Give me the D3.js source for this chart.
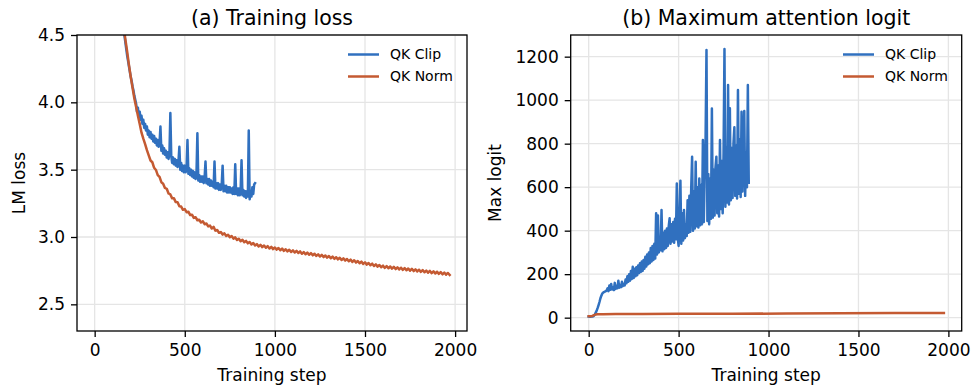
<!DOCTYPE html>
<html>
<head>
<meta charset="utf-8">
<script src="https://cdn.jsdelivr.net/npm/d3@7"></script>
<style>
  body { margin: 0; background: #fff; }
  svg text { font-family: "DejaVu Sans", sans-serif; fill: #000; }
</style>
</head>
<body>
<div id="chart"></div>
<script>
// ---- data ----
const seriesNames = ['QK Clip', 'QK Norm'];
const seriesColors = ['#3070bf', '#c45a32'];

const stepTicks = [0, 500, 1000, 1500, 2000];
const lossTicks = [2.5, 3.0, 3.5, 4.0, 4.5];
const logitTicks = [0, 200, 400, 600, 800, 1000, 1200];

// (a) LM loss, QK Clip: every 5 steps from step 120
const clipLossStart = 120, clipLossStride = 5;
const clipLoss = [
    4.95, 4.90, 4.84, 4.80, 4.75, 4.70, 4.65, 4.60, 4.55, 4.50,
    4.45, 4.40, 4.35, 4.31, 4.27, 4.23, 4.19, 4.16, 4.12, 4.09,
    4.05, 4.02,
    3.99, 3.93, 3.96, 3.89, 3.93, 3.87, 3.90, 3.84, 3.87, 3.81,
    3.84, 3.79, 3.82, 3.76, 3.79, 3.74, 3.78, 3.73, 3.76, 3.71,
    3.75, 3.70, 3.73, 3.68, 3.72, 3.67, 3.70, 3.82, 3.64, 3.68,
    3.62, 3.66, 3.61, 3.64, 3.59, 3.63, 3.58, 3.62, 3.92, 3.60,
    3.55, 3.59, 3.54, 3.58, 3.53, 3.57, 3.52, 3.56, 3.67, 3.50,
    3.55, 3.49, 3.53, 3.48, 3.53, 3.48, 3.52, 3.72, 3.47, 3.51,
    3.46, 3.50, 3.45, 3.49, 3.44, 3.48, 3.43, 3.47, 3.77, 3.42,
    3.46, 3.41, 3.45, 3.41, 3.45, 3.40, 3.44, 3.56, 3.40, 3.43,
    3.39, 3.43, 3.38, 3.42, 3.38, 3.41, 3.37, 3.56, 3.36, 3.40,
    3.36, 3.40, 3.35, 3.39, 3.35, 3.39, 3.53, 3.34, 3.38, 3.34,
    3.38, 3.33, 3.37, 3.33, 3.37, 3.33, 3.36, 3.32, 3.37, 3.32,
    3.54, 3.32, 3.36, 3.31, 3.36, 3.31, 3.35, 3.57, 3.31, 3.35,
    3.30, 3.34, 3.29, 3.34, 3.30, 3.79, 3.28, 3.34, 3.30, 3.37,
    3.32, 3.39, 3.40
];

// (a) LM loss, QK Norm: every 10 steps from step 120
const normLossStart = 120, normLossStride = 10;
const normLoss = [
    4.97, 4.87, 4.77, 4.67, 4.57, 4.47, 4.38, 4.28, 4.19, 4.11,
    4.03, 3.965, 3.90, 3.84, 3.775, 3.73, 3.69, 3.645,
    3.606, 3.568, 3.555, 3.514, 3.498, 3.460, 3.447, 3.407, 3.396, 3.364,
    3.358, 3.323, 3.316, 3.287, 3.287, 3.259, 3.258, 3.228, 3.226, 3.202,
    3.207, 3.184, 3.188, 3.163, 3.166, 3.142, 3.147, 3.124, 3.128, 3.108,
    3.117, 3.095, 3.100, 3.079, 3.085, 3.063, 3.075, 3.047, 3.052, 3.031,
    3.037, 3.018, 3.027, 3.008, 3.017, 2.998, 3.007, 2.988, 2.997, 2.978,
    2.987, 2.969, 2.979, 2.961, 2.971, 2.953, 2.963, 2.945, 2.955, 2.937,
    2.947, 2.930, 2.942, 2.925, 2.937, 2.920, 2.932, 2.915, 2.927, 2.910,
    2.922, 2.906, 2.918, 2.902, 2.914, 2.897, 2.909, 2.893, 2.905, 2.889,
    2.901, 2.885, 2.897, 2.881, 2.893, 2.876, 2.888, 2.872, 2.884, 2.868,
    2.880, 2.864, 2.876, 2.860, 2.871, 2.855, 2.867, 2.851, 2.863, 2.847,
    2.859, 2.842, 2.854, 2.838, 2.850, 2.834, 2.846, 2.829, 2.841, 2.825,
    2.837, 2.820, 2.832, 2.815, 2.827, 2.810, 2.822, 2.805, 2.817, 2.800,
    2.812, 2.795, 2.807, 2.790, 2.802, 2.785, 2.797, 2.780, 2.792, 2.775,
    2.787, 2.771, 2.784, 2.768, 2.781, 2.765, 2.778, 2.762, 2.775, 2.759,
    2.772, 2.756, 2.769, 2.753, 2.766, 2.750, 2.763, 2.747, 2.760, 2.744,
    2.757, 2.741, 2.754, 2.738, 2.751, 2.735, 2.748, 2.732, 2.745, 2.729,
    2.742, 2.726, 2.739, 2.723, 2.736, 2.720, 2.733, 2.718
];

// (b) max logit, QK Clip: every 5 steps from step 0
const clipLogitStart = 0, clipLogitStride = 5;
const clipLogit = [
    5, 4, 4, 5, 5, 6, 10, 16, 24, 34, 45, 58, 72, 88, 100, 110, 115, 118, 120, 122,
    125, 135, 122, 148, 128, 155, 130, 140, 127, 160, 132, 145, 135, 170, 138, 150, 140, 165, 145, 155,
    148, 175, 158, 190, 165, 200, 170, 215, 178, 234, 182, 225, 190, 232, 195, 240, 205, 250, 210, 258,
    215, 265, 225, 280, 235, 290, 245, 300, 250, 320, 258, 330, 265, 340, 272, 480, 290, 470, 300, 360,
    310, 495, 305, 390, 315, 400, 320, 410, 330, 420, 457, 340, 430, 350, 440, 345, 455, 360, 617, 370,
    330, 470, 630, 340, 480, 355, 495, 365, 430, 375, 540, 390, 560, 395, 590, 740, 400, 580, 410, 717,
    420, 600, 415, 640, 425, 610, 430, 817, 440, 650, 825, 1231, 445, 660, 430, 640, 455, 962, 460, 680,
    470, 690, 740, 480, 700, 465, 817, 500, 720, 480, 760, 1235, 510, 780, 530, 1070, 520, 963, 540, 780,
    550, 800, 875, 560, 790, 548, 1047, 570, 820, 555, 947, 580, 800, 950, 560, 760, 600, 1070, 620
];

// (b) max logit, QK Norm
const normLogitSteps = [0, 10, 20, 30, 40, 50, 80, 150, 300, 500, 800, 1100, 1400, 1700, 1975];
const normLogit = [6, 6, 8, 12, 15, 16, 16, 16.5, 17, 17.5, 18, 19, 20, 21, 22];

const strided = (start, stride, values) => values.map((v, i) => ({x: start + i * stride, y: v}));
const paired = (steps, values) => values.map((v, i) => ({x: steps[i], y: v}));

// ---- drawing ----
const W = 971, H = 387;
const svg = d3.select('#chart').append('svg')
    .attr('width', W)
    .attr('height', H);

class Panel {
    constructor(svg, {id, x0, x1, y0, y1, xDomain, yDomain}) {
        this.svg = svg;
        this.id = id;
        this.x0 = x0; this.x1 = x1; this.y0 = y0; this.y1 = y1;
        this.scaleX = d3.scaleLinear().domain(xDomain).range([x0, x1]);
        this.scaleY = d3.scaleLinear().domain(yDomain).range([y1, y0]);
        svg.append('clipPath').attr('id', id)
            .append('rect')
            .attr('x', x0).attr('y', y0)
            .attr('width', x1 - x0).attr('height', y1 - y0);
    }

    drawGrid(xTicks, yTicks) {
        const g = this.svg.append('g').classed('grid', true)
            .attr('stroke', '#e5e5e5')
            .attr('stroke-width', 1.3);
        g.selectAll('.gx').data(xTicks).join('line')
            .attr('x1', d => this.scaleX(d)).attr('x2', d => this.scaleX(d))
            .attr('y1', this.y0).attr('y2', this.y1);
        g.selectAll('.gy').data(yTicks).join('line')
            .attr('y1', d => this.scaleY(d)).attr('y2', d => this.scaleY(d))
            .attr('x1', this.x0).attr('x2', this.x1);
    }

    drawLine(points, color) {
        const line = d3.line()
            .x(d => this.scaleX(d.x))
            .y(d => this.scaleY(d.y));
        this.svg.append('path')
            .attr('clip-path', `url(#${this.id})`)
            .attr('d', line(points))
            .attr('fill', 'none')
            .attr('stroke', color)
            .attr('stroke-width', 2.5)
            .attr('stroke-linejoin', 'round')
            .attr('stroke-linecap', 'square');
    }

    drawAxes(xTicks, yTicks, yFormat) {
        const styleAxis = g => {
            g.select('.domain').remove();
            g.selectAll('.tick line').attr('stroke', '#000').attr('stroke-width', 1.3);
            g.selectAll('.tick text').attr('font-size', 17).attr('fill', '#000');
        };
        this.svg.append('g')
            .classed('x-axis', true)
            .attr('transform', `translate(0,${this.y1})`)
            .call(d3.axisBottom(this.scaleX).tickValues(xTicks).tickSize(6).tickPadding(7).tickFormat(d3.format('d')))
            .call(styleAxis);
        this.svg.append('g')
            .classed('y-axis', true)
            .attr('transform', `translate(${this.x0},0)`)
            .call(d3.axisLeft(this.scaleY).tickValues(yTicks).tickSize(6).tickPadding(6).tickFormat(yFormat))
            .call(styleAxis);
        this.svg.append('rect')
            .attr('x', this.x0).attr('y', this.y0)
            .attr('width', this.x1 - this.x0).attr('height', this.y1 - this.y0)
            .attr('fill', 'none')
            .attr('stroke', '#000')
            .attr('stroke-width', 1.3);
    }

    drawLabels(title, xLabel, yLabel, yLabelX) {
        const cx = (this.x0 + this.x1) / 2;
        const cy = (this.y0 + this.y1) / 2;
        this.svg.append('text')
            .attr('x', cx).attr('y', 25)
            .attr('text-anchor', 'middle')
            .attr('font-size', 20.5)
            .text(title);
        this.svg.append('text')
            .attr('x', cx).attr('y', 381)
            .attr('text-anchor', 'middle')
            .attr('font-size', 17)
            .text(xLabel);
        this.svg.append('text')
            .attr('transform', `translate(${yLabelX},${cy}) rotate(-90)`)
            .attr('text-anchor', 'middle')
            .attr('font-size', 17)
            .text(yLabel);
    }

    drawLegend(x, y) {
        const g = this.svg.append('g').attr('transform', `translate(${x},${y})`);
        seriesNames.forEach((name, i) => {
            g.append('line')
                .attr('x1', 0).attr('x2', 31)
                .attr('y1', i * 22).attr('y2', i * 22)
                .attr('stroke', seriesColors[i])
                .attr('stroke-width', 2.5);
            g.append('text')
                .attr('x', 42).attr('y', i * 22)
                .attr('dy', '0.35em')
                .attr('font-size', 14)
                .text(name);
        });
    }
}

const lossPanel = new Panel(svg, {
    id: 'clip-a', x0: 77, x1: 467, y0: 35, y1: 331,
    xDomain: [-98, 2066], yDomain: [2.302, 4.5]
});
lossPanel.drawGrid(stepTicks, lossTicks);
lossPanel.drawLine(strided(clipLossStart, clipLossStride, clipLoss), seriesColors[0]);
lossPanel.drawLine(strided(normLossStart, normLossStride, normLoss), seriesColors[1]);
lossPanel.drawAxes(stepTicks, lossTicks, d3.format('.1f'));
lossPanel.drawLabels('(a) Training loss', 'Training step', 'LM loss', 25);
lossPanel.drawLegend(348, 54.5);

const logitPanel = new Panel(svg, {
    id: 'clip-b', x0: 570.7, x1: 961.7, y0: 35, y1: 331,
    xDomain: [-100, 2074], yDomain: [-61.3, 1299.6]
});
logitPanel.drawGrid(stepTicks, logitTicks);
logitPanel.drawLine(strided(clipLogitStart, clipLogitStride, clipLogit), seriesColors[0]);
logitPanel.drawLine(paired(normLogitSteps, normLogit), seriesColors[1]);
logitPanel.drawAxes(stepTicks, logitTicks, d3.format('d'));
logitPanel.drawLabels('(b) Maximum attention logit', 'Training step', 'Max logit', 501);
logitPanel.drawLegend(843, 54.5);
</script>
</body>
</html>
